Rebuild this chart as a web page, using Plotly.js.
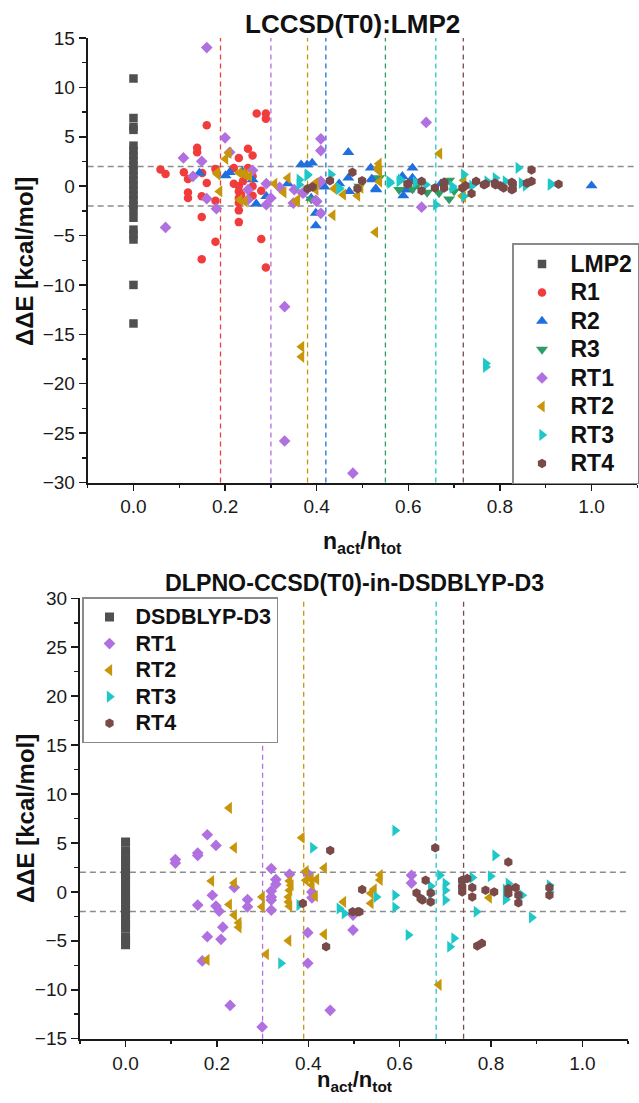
<!DOCTYPE html>
<html>
<head>
<meta charset="utf-8">
<script src="https://cdn.plot.ly/plotly-3.0.1.min.js"></script>
<style>
  html, body { margin: 0; padding: 0; background: #fff; }
  #chart { width: 639px; height: 1103px; }
</style>
</head>
<body>
<div id="chart"></div>
<script>
// ---------------- DATA: top panel (LCCSD(T0):LMP2) ----------------
const topLMP2_x = [0,0,0,0,0,0,0,0,0,0,0,0,0,0,0,0,0,0,0,0,0,0,0,0];
const topLMP2_y = [10.9,6.9,6.0,5.7,4.1,3.6,3.1,2.6,2.1,1.6,1.1,0.6,0.1,-0.4,-0.9,-1.4,-1.9,-2.4,-3.2,-4.4,-4.9,-5.4,-10.0,-13.9];

const topR1_x = [0.059,0.070,0.110,0.119,0.139,0.139,0.160,0.150,0.160,0.179,0.219,0.250,0.219,0.230,0.230,0.235,0.230,0.260,0.279,0.260,0.239,0.119,0.119,0.149,0.179,0.149,0.230,0.230,0.179,0.279,0.149,0.289,0.269,0.289,0.289,0.250,0.260,0.230,0.260,0.230];
const topR1_y = [1.68,1.24,1.40,0.73,3.88,3.43,6.17,1.34,0.32,1.75,1.85,1.85,0.25,-0.02,-0.53,-0.86,-1.2,-0.02,-0.46,-0.96,0.49,-0.63,-1.2,-1.03,-1.47,-3.13,-2.45,-3.64,-5.63,-5.36,-7.39,-8.24,7.36,7.36,6.82,3.78,3.10,2.86,1.0,-1.7];

const topR2_x = [0.144,0.201,0.210,0.237,0.260,0.268,0.290,0.337,0.366,0.379,0.390,0.388,0.398,0.398,0.417,0.449,0.469,0.469,0.471,0.518,0.520,0.522,0.529,0.530,0.587,0.589,0.594,0.602,0.609,0.609,0.612,0.671,1.0];
const topR2_y = [1.34,1.07,1.40,1.5,0.66,-1.78,-1.03,0.25,2.18,2.18,2.35,-1.2,-2.72,-4.0,-0.08,0.25,3.43,0.83,-0.53,1.85,0.73,0.66,-0.25,-0.36,1.0,-0.96,-0.36,-0.36,1.85,0.83,0.49,0.25,0.05];

const topR3_x = [0.388,0.493,0.536,0.580,0.609,0.641,0.667,0.689,0.689,0.620,0.700];
const topR3_y = [-1.3,-0.02,0.83,-0.36,-0.29,-0.63,-0.69,-1.3,0.59,0.2,-0.5];

const topRT1_x = [0.070,0.109,0.130,0.149,0.160,0.160,0.181,0.200,0.210,0.250,0.260,0.250,0.290,0.290,0.300,0.319,0.330,0.330,0.349,0.351,0.369,0.371,0.398,0.400,0.406,0.409,0.409,0.409,0.409,0.479,0.629,0.639];
const topRT1_y = [-4.18,2.86,1.0,2.52,14.03,-1.27,-2.28,4.89,3.43,-0.36,1.6,-1.37,0.25,-1.88,-1.2,-0.12,-12.2,-25.8,-1.71,-0.36,-0.69,-0.69,-1.44,-1.54,0.32,4.79,3.6,-2.75,0.49,-29.06,-2.13,6.45];

const topRT2_x = [0.182,0.184,0.188,0.201,0.208,0.231,0.239,0.245,0.253,0.232,0.243,0.308,0.328,0.337,0.355,0.358,0.367,0.367,0.395,0.398,0.398,0.435,0.438,0.458,0.489,0.496,0.528,0.533,0.536,0.537,0.537,0.668,0.718,0.721,0.720];
const topRT2_y = [1.34,1.17,-0.53,2.76,3.37,1.34,1.27,1.17,1.0,-1.37,-1.54,0.25,-0.63,0.83,-1.54,-1.37,-16.26,-17.28,0.22,-0.36,0.32,-2.95,-0.25,-0.86,-0.96,-0.18,-4.67,1.85,2.28,1.5,0.45,3.3,-0.96,0.59,-1.1];

const topRT3_x = [0.362,0.362,0.379,0.380,0.431,0.449,0.449,0.558,0.560,0.580,0.583,0.616,0.638,0.660,0.696,0.696,0.721,0.721,0.739,0.769,0.769,0.772,0.790,0.812,0.840,0.847,0.856,0.910,0.912];
const topRT3_y = [0.66,0.15,1.07,1.17,1.17,-0.29,-0.18,0.49,0.32,0.49,0.66,0.39,0.15,-1.88,-0.02,-0.18,1.17,-1.03,0.05,-17.95,-18.3,0.49,0.83,0.49,1.85,0.32,0.05,0.15,0.22];

const topRT4_x = [0.380,0.391,0.429,0.478,0.489,0.499,0.598,0.600,0.629,0.629,0.658,0.678,0.678,0.718,0.725,0.738,0.748,0.765,0.769,0.789,0.790,0.801,0.808,0.826,0.828,0.828,0.826,0.859,0.869,0.869,0.928];
const topRT4_y = [-0.25,-0.08,0.56,1.40,-0.25,0.56,0.22,0.25,0.49,-0.46,-0.18,0.39,-0.18,-0.18,0.05,-0.75,0.49,0.15,0.22,0.32,0.15,0.05,-0.18,0.39,0.25,-0.29,-0.36,0.32,1.64,0.49,0.2];

// vertical reference lines (top), one per series
const topVline_x = [0.19,0.30,0.38,0.42,0.55,0.66,0.72];
const topVline_series = ["R1","RT1","RT2","R2","R3","RT3","RT4"];

// ---------------- DATA: bottom panel (DLPNO-CCSD(T0)-in-DSDBLYP-D3) ----------------
const botDSD_x = [0,0,0,0,0,0,0,0,0,0,0,0,0,0,0,0,0,0,0,0,0];
const botDSD_y = [5.1,4.2,3.7,3.2,2.7,2.2,1.7,1.2,0.7,0.2,-0.3,-0.8,-1.3,-1.8,-2.3,-2.8,-3.3,-3.7,-4.6,-5.0,-5.4];

const botRT1_x = [0.109,0.109,0.158,0.158,0.179,0.198,0.190,0.158,0.198,0.205,0.213,0.179,0.209,0.168,0.229,0.238,0.267,0.267,0.299,0.319,0.329,0.329,0.319,0.319,0.319,0.319,0.359,0.399,0.399,0.399,0.408,0.408,0.448,0.498,0.498,0.626,0.626];
const botRT1_y = [3.3,2.95,3.97,3.73,5.84,4.75,-0.34,-1.35,-1.45,-1.97,-3.6,-4.58,-4.85,-7.05,-11.6,0.45,-0.78,-1.53,-13.8,2.38,1.26,0.78,0.1,-0.51,-0.84,-1.86,1.8,1.85,-4.17,-7.29,0.0,-0.61,-12.1,-2.37,-3.9,1.7,0.9];

const botRT2_x = [0.178,0.188,0.227,0.227,0.238,0.238,0.238,0.248,0.248,0.299,0.299,0.308,0.357,0.359,0.362,0.359,0.357,0.357,0.359,0.386,0.395,0.395,0.406,0.418,0.408,0.415,0.435,0.435,0.477,0.537,0.537,0.544,0.557,0.557,0.686,0.796];
const botRT2_y = [-6.95,1.12,8.58,-1.29,4.51,0.91,-2.37,-3.15,-3.62,-0.51,-1.53,-6.37,-4.98,1.12,0.68,0.17,-0.51,-1.02,-1.46,5.53,2.14,1.2,1.3,1.3,0.7,-0.44,2.44,-4.34,-1.02,-0.14,-1.16,0.27,1.73,1.22,-9.5,-0.6];

const botRT3_x = [0.340,0.380,0.410,0.468,0.479,0.549,0.590,0.590,0.590,0.619,0.668,0.668,0.688,0.700,0.700,0.700,0.710,0.719,0.734,0.759,0.768,0.799,0.809,0.832,0.832,0.838,0.868,0.889,0.928,0.928];
const botRT3_y = [-7.29,-1.35,4.51,-1.69,-2.2,-0.51,6.28,-0.34,-1.59,-4.4,0.58,-0.17,1.7,0.85,0.17,-0.84,-5.6,-4.74,0.85,1.46,-2.03,1.6,3.73,0.24,-0.78,0.85,-0.34,-2.61,0.68,0.0];

const botRT4_x = [0.388,0.439,0.448,0.497,0.508,0.512,0.518,0.637,0.646,0.650,0.657,0.668,0.668,0.678,0.737,0.737,0.737,0.748,0.759,0.759,0.770,0.780,0.788,0.807,0.838,0.838,0.838,0.854,0.860,0.860,0.928,0.928];
const botRT4_y = [-1.18,-5.6,4.24,-2.03,-2.03,-2.03,0.24,-0.1,-0.67,-0.84,1.19,-0.1,-1.02,4.51,1.19,0.51,0.0,1.36,0.44,-0.51,-5.52,-5.25,0.17,0.0,3.05,0.34,-0.17,0.44,-0.34,-1.12,0.44,-0.34];

const botVline_x = [0.30,0.39,0.68,0.74];
const botVline_series = ["RT1","RT2","RT3","RT4"];

// horizontal threshold lines (both panels)
const thresholds = [2, -2];

// titles
const topTitle = "LCCSD(T0):LMP2";
const botTitle = "DLPNO-CCSD(T0)-in-DSDBLYP-D3";
const xTitle = "n<sub>act</sub>/n<sub>tot</sub>";
const yTitle = "ΔΔE [kcal/mol]";

// ---------------- STYLES ----------------
const colors = {
  LMP2: "#505050", "DSDBLYP-D3": "#505050",
  R1: "#F03C3C", R2: "#1F6FDE", R3: "#2E9E64",
  RT1: "#B070E0", RT2: "#C8960A", RT3: "#1EC8C8", RT4: "#7A4A48"
};
const symbols = {
  LMP2: "square", "DSDBLYP-D3": "square",
  R1: "circle", R2: "triangle-up", R3: "triangle-down",
  RT1: "diamond", RT2: "triangle-left", RT3: "triangle-right", RT4: "hexagon"
};
const sizes = {
  LMP2: 8.5, "DSDBLYP-D3": 9, R1: 8.5, R2: 10.5, R3: 10.5,
  RT1: 9, RT2: 10.5, RT3: 10.5, RT4: 9.5
};

function mk(name, xs, ys, xa, ya, leg, labelSize) {
  return {
    type: "scatter", mode: "markers",
    name: '<span style="font-size:' + labelSize + 'px">' + name + '</span>',
    x: xs, y: ys, xaxis: xa, yaxis: ya, legend: leg,
    legendgroup: leg + name,
    marker: { symbol: symbols[name], color: colors[name], size: sizes[name], line: { width: 0 } },
    cliponaxis: false
  };
}

const traces = [
  mk("LMP2", topLMP2_x, topLMP2_y, "x", "y", "legend", 23),
  mk("R1", topR1_x, topR1_y, "x", "y", "legend", 23),
  mk("R2", topR2_x, topR2_y, "x", "y", "legend", 23),
  mk("R3", topR3_x, topR3_y, "x", "y", "legend", 23),
  mk("RT1", topRT1_x, topRT1_y, "x", "y", "legend", 23),
  mk("RT2", topRT2_x, topRT2_y, "x", "y", "legend", 23),
  mk("RT3", topRT3_x, topRT3_y, "x", "y", "legend", 23),
  mk("RT4", topRT4_x, topRT4_y, "x", "y", "legend", 23),
  mk("DSDBLYP-D3", botDSD_x, botDSD_y, "x2", "y2", "legend2", 21.5),
  mk("RT1", botRT1_x, botRT1_y, "x2", "y2", "legend2", 21.5),
  mk("RT2", botRT2_x, botRT2_y, "x2", "y2", "legend2", 21.5),
  mk("RT3", botRT3_x, botRT3_y, "x2", "y2", "legend2", 21.5),
  mk("RT4", botRT4_x, botRT4_y, "x2", "y2", "legend2", 21.5)
];

const shapes = [];
function hlines(xa, ya) {
  thresholds.forEach(v => shapes.push({
    type: "line", layer: "below", xref: xa + " domain", yref: ya,
    x0: 0, x1: 1, y0: v, y1: v,
    line: { color: "#8c8c8c", width: 1.5, dash: "6px,4px" }
  }));
}
function vlines(xs, series, xa, ya) {
  xs.forEach((v, i) => shapes.push({
    type: "line", layer: "below", xref: xa, yref: ya + " domain",
    x0: v, x1: v, y0: 0, y1: 1,
    line: { color: colors[series[i]], width: 1.3, dash: "5px,4px" }
  }));
}
hlines("x", "y"); vlines(topVline_x, topVline_series, "x", "y");
hlines("x2", "y2"); vlines(botVline_x, botVline_series, "x2", "y2");

const FONT = "Liberation Sans, Arial, sans-serif";
const tickFont = { family: FONT, size: 19, color: "#1a1a1a" };

function xax(domain, anchor) {
  return {
    domain: domain, anchor: anchor, range: [-0.1, 1.1],
    showline: true, linecolor: "#1a1a1a", linewidth: 2,
    ticks: "outside", ticklen: 6, tickwidth: 1.5, tickcolor: "#1a1a1a",
    tick0: 0, dtick: 0.2, tickformat: ".1f",
    minor: { tick0: 0, dtick: 0.1, ticks: "outside", ticklen: 3.5, tickwidth: 1.5, tickcolor: "#1a1a1a" },
    showgrid: false, zeroline: false, tickfont: tickFont, fixedrange: true
  };
}
function yax(domain, anchor, range) {
  return {
    domain: domain, anchor: anchor, range: range,
    showline: true, linecolor: "#1a1a1a", linewidth: 2,
    ticks: "outside", ticklen: 7, tickwidth: 1.5, tickcolor: "#1a1a1a",
    tick0: 0, dtick: 5,
    minor: { tick0: 0, dtick: 2.5, ticks: "outside", ticklen: 4, tickwidth: 1.5, tickcolor: "#1a1a1a" },
    showgrid: false, zeroline: false, tickfont: tickFont, fixedrange: true
  };
}

const W = 639, H = 1103;
const px = v => v / W, py = v => 1 - v / H;

const layout = {
  width: W, height: H,
  margin: { l: 0, r: 0, t: 0, b: 0 },
  paper_bgcolor: "#fff", plot_bgcolor: "rgba(0,0,0,0)",
  showlegend: true,
  xaxis: xax([px(87.8), 0.999], "y"),
  yaxis: yax([py(482.5), py(38)], "x", [-30, 15]),
  xaxis2: xax([px(80), px(629)], "y2"),
  yaxis2: yax([py(1038.7), py(598.3)], "x2", [-15, 30]),
  legend: {
    x: px(512.7), y: py(243.3), xanchor: "left", yanchor: "top",
    bgcolor: "#fff", bordercolor: "#8a8a8a", borderwidth: 1.5,
    font: { family: FONT, size: 19.6, color: "#111", weight: "bold" },
    itemwidth: 47, tracegroupgap: 0, traceorder: "normal"
  },
  legend2: {
    x: px(82), y: py(597.3), xanchor: "left", yanchor: "top",
    bgcolor: "#fff", bordercolor: "#8a8a8a", borderwidth: 1.5,
    font: { family: FONT, size: 18.1, color: "#111", weight: "bold" },
    itemwidth: 42, tracegroupgap: 0, traceorder: "normal"
  },
  shapes: shapes,
  annotations: [
    { text: "<b>" + topTitle + "</b>", xref: "paper", yref: "paper", x: px(353), y: py(23.7),
      xanchor: "center", yanchor: "middle", showarrow: false, font: { family: FONT, size: 26, color: "#111" } },
    { text: "<b>" + botTitle + "</b>", xref: "paper", yref: "paper", x: px(355), y: py(582.7),
      xanchor: "center", yanchor: "middle", showarrow: false, font: { family: FONT, size: 23.2, color: "#111" } },
    { text: "<b>" + xTitle + "</b>", xref: "paper", yref: "paper", x: px(363), y: py(543),
      xanchor: "center", yanchor: "middle", showarrow: false, font: { family: FONT, size: 23, color: "#111" } },
    { text: "<b>" + xTitle + "</b>", xref: "paper", yref: "paper", x: px(355), y: py(1081),
      xanchor: "center", yanchor: "middle", showarrow: false, font: { family: FONT, size: 22, color: "#111" } },
    { text: "<b>" + yTitle + "</b>", xref: "paper", yref: "paper", x: px(24), y: py(261),
      xanchor: "center", yanchor: "middle", textangle: -90, showarrow: false, font: { family: FONT, size: 24, color: "#111" } },
    { text: "<b>" + yTitle + "</b>", xref: "paper", yref: "paper", x: px(25), y: py(818),
      xanchor: "center", yanchor: "middle", textangle: -90, showarrow: false, font: { family: FONT, size: 24, color: "#111" } }
  ]
};

Plotly.newPlot("chart", traces, layout, { staticPlot: true, displayModeBar: false });
</script>
</body>
</html>
